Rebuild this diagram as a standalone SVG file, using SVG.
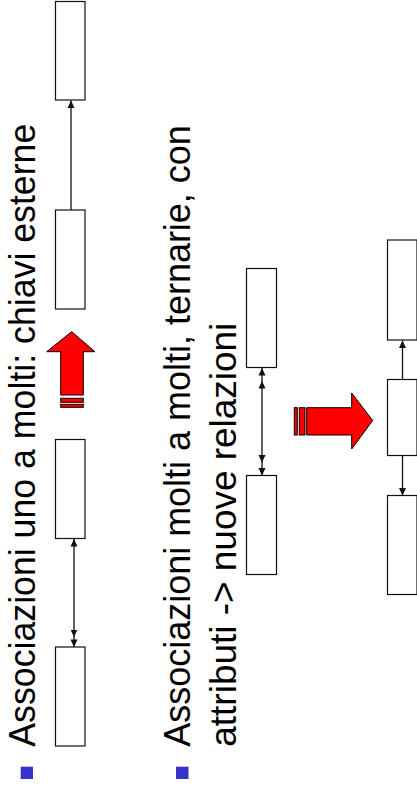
<svg xmlns="http://www.w3.org/2000/svg" width="417" height="794" viewBox="0 0 417 794">
<style>
.box{fill:#fff;stroke:#111;stroke-width:1.2}
.ln{stroke:#111;stroke-width:1.3;fill:none}
.txt{font-family:"Liberation Sans",Arial,sans-serif;font-size:36px;fill:#000}
.bul{fill:#3333cc}
.red{fill:#ff0000;stroke:#000;stroke-width:1}
</style>
<defs>
<marker id="a1" viewBox="0 0 8 8" refX="7.5" refY="4" markerWidth="8" markerHeight="8" markerUnits="userSpaceOnUse" orient="auto-start-reverse"><path d="M0,0.5 L7.5,4 L0,7.5 z" fill="#111"/></marker>
<marker id="a2" viewBox="0 0 18 8" refX="17.5" refY="4" markerWidth="18" markerHeight="8" markerUnits="userSpaceOnUse" orient="auto-start-reverse"><path d="M0,0.5 L7.5,4 L0,7.5 z M10,0.5 L17.5,4 L10,7.5 z" fill="#111"/></marker>
<marker id="a3" viewBox="0 0 21 8" refX="20.5" refY="4" markerWidth="21" markerHeight="8" markerUnits="userSpaceOnUse" orient="auto-start-reverse"><path d="M0,0.5 L7.5,4 L0,7.5 z M13,0.5 L20.5,4 L13,7.5 z" fill="#111"/></marker>
</defs>

<g id="texts">
<rect class="bul" x="20.7" y="766.7" width="12.3" height="12.3"/>
<text class="txt" transform="translate(34.5,746.7) rotate(-90)" textLength="623" lengthAdjust="spacingAndGlyphs">Associazioni uno a molti: chiavi esterne</text>
<rect class="bul" x="176" y="766.7" width="12.5" height="12.3"/>
<text class="txt" transform="translate(190,746.7) rotate(-90)" textLength="621.5" lengthAdjust="spacingAndGlyphs">Associazioni molti a molti, ternarie, con</text>
<text class="txt" transform="translate(236,746.7) rotate(-90)" textLength="424" lengthAdjust="spacingAndGlyphs">attributi -&gt; nuove relazioni</text>
</g>

<g id="nodeA"><rect class="box" x="55.5" y="1.5" width="29.5" height="98.5"/></g>
<g id="nodeB"><rect class="box" x="55.5" y="210" width="29.5" height="99"/></g>
<g id="nodeC"><rect class="box" x="55.5" y="439.5" width="29.5" height="99"/></g>
<g id="nodeD"><rect class="box" x="55.5" y="647" width="29.5" height="99"/></g>
<g id="nodeE"><rect class="box" x="246.5" y="268.5" width="30" height="99"/></g>
<g id="nodeF"><rect class="box" x="246.5" y="475.5" width="30" height="99"/></g>
<g id="nodeG"><rect class="box" x="387.5" y="240" width="29.5" height="100"/></g>
<g id="nodeH"><rect class="box" x="387.5" y="379.5" width="29.5" height="76"/></g>
<g id="nodeI"><rect class="box" x="387.5" y="495.5" width="29.5" height="99"/></g>

<g id="bigArrow1">
<polygon class="red" points="71.7,331.7 95,351.7 83.3,351.7 83.3,395 60.7,395 60.7,351.7 46.7,351.7"/>
<rect class="red" x="60.7" y="398.3" width="22.6" height="4"/>
<rect class="red" x="60.7" y="404.3" width="22.6" height="3"/>
</g>
<g id="bigArrow2">
<polygon class="red" points="372.7,420.5 351.7,449 351.7,435 306.7,435 306.7,407.7 351.7,407.7 351.7,393"/>
<rect class="red" x="299.3" y="407.7" width="5.7" height="27.3"/>
<rect class="red" x="294.3" y="407.7" width="3" height="27.3"/>
</g>

<g id="connectors">
<line class="ln" x1="71" y1="210" x2="71" y2="100.5" marker-end="url(#a1)"/>
<line class="ln" x1="74" y1="539" x2="74" y2="647" marker-start="url(#a1)" marker-end="url(#a2)"/>
<line class="ln" x1="262" y1="368" x2="262" y2="475.5" marker-start="url(#a3)" marker-end="url(#a3)"/>
<line class="ln" x1="402.5" y1="379.5" x2="402.5" y2="340.5" marker-end="url(#a1)"/>
<line class="ln" x1="402.5" y1="455.5" x2="402.5" y2="495.5" marker-end="url(#a1)"/>
</g>
</svg>
